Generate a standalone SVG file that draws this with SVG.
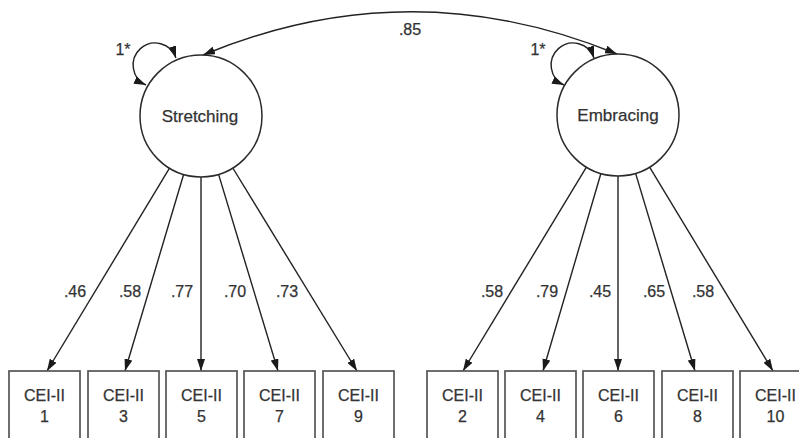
<svg xmlns="http://www.w3.org/2000/svg" width="799" height="438" viewBox="0 0 799 438">
<defs>
<marker id="ah" markerUnits="userSpaceOnUse" markerWidth="12" markerHeight="8" refX="12" refY="4" orient="auto-start-reverse"><path d="M0,0 L12,4 L0,8 z" fill="#1a1a1a"/></marker>
<style>
.lat{fill:#fff;stroke:#2a2a2a;stroke-width:1.5}
.obs{fill:#fff;stroke:#555;stroke-width:1.7}
.c{fill:none;stroke:#222;stroke-width:1.4;marker-end:url(#ah)}
.d{marker-start:url(#ah)}
text{font-family:"Liberation Sans",Arial,sans-serif;fill:#333;stroke:#333;stroke-width:0.25;text-anchor:middle}
.lt{font-size:17px}
.ot{font-size:16px}
.lb{font-size:16px}
</style>
</defs>
<rect width="799" height="438" fill="#fff"/>
<g id="connectors">
<path class="c d" d="M203,55 Q410,-31 617,54"/>
<path class="c d" d="M176,58 A22 22 0 1 0 146,85"/>
<path class="c d" d="M594,58 A22 22 0 1 0 564,85"/>
<path class="c" d="M169.5,168.2 L47,371"/>
<path class="c" d="M183.6,174.5 L125,371"/>
<path class="c" d="M201,177 L201,371"/>
<path class="c" d="M218.6,174.4 L278,371"/>
<path class="c" d="M232.8,168 L357,371"/>
<path class="c" d="M586.4,167.2 L463,371"/>
<path class="c" d="M600.9,173.5 L543,371"/>
<path class="c" d="M618,176 L618,371"/>
<path class="c" d="M635.6,173.4 L695,371"/>
<path class="c" d="M649.6,167.2 L773,371"/>
</g>
<g id="labels">
<text class="lb" x="410" y="35">.85</text>
<text class="lb" x="123" y="55">1*</text>
<text class="lb" x="538" y="55">1*</text>
<text class="lb" x="75" y="297">.46</text>
<text class="lb" x="130" y="297">.58</text>
<text class="lb" x="182" y="297">.77</text>
<text class="lb" x="235" y="297">.70</text>
<text class="lb" x="287" y="297">.73</text>
<text class="lb" x="492" y="297">.58</text>
<text class="lb" x="547" y="297">.79</text>
<text class="lb" x="600" y="297">.45</text>
<text class="lb" x="654" y="297">.65</text>
<text class="lb" x="703" y="297">.58</text>
</g>
<g id="stretching"><circle class="lat" cx="201" cy="116" r="61"/><text class="lt" x="200" y="122">Stretching</text></g>
<g id="embracing"><circle class="lat" cx="618" cy="115" r="61"/><text class="lt" x="618" y="121">Embracing</text></g>
<g id="cei1"><rect class="obs" x="9" y="371" width="71" height="80"/><text class="ot" x="44.5" y="401">CEI-II</text><text class="ot" x="44.5" y="422">1</text></g>
<g id="cei3"><rect class="obs" x="88" y="371" width="71" height="80"/><text class="ot" x="123.5" y="401">CEI-II</text><text class="ot" x="123.5" y="422">3</text></g>
<g id="cei5"><rect class="obs" x="166" y="371" width="71" height="80"/><text class="ot" x="201.5" y="401">CEI-II</text><text class="ot" x="201.5" y="422">5</text></g>
<g id="cei7"><rect class="obs" x="244" y="371" width="71" height="80"/><text class="ot" x="279.5" y="401">CEI-II</text><text class="ot" x="279.5" y="422">7</text></g>
<g id="cei9"><rect class="obs" x="323" y="371" width="71" height="80"/><text class="ot" x="358.5" y="401">CEI-II</text><text class="ot" x="358.5" y="422">9</text></g>
<g id="cei2"><rect class="obs" x="427" y="371" width="71" height="80"/><text class="ot" x="462.5" y="401">CEI-II</text><text class="ot" x="462.5" y="422">2</text></g>
<g id="cei4"><rect class="obs" x="505" y="371" width="71" height="80"/><text class="ot" x="540.5" y="401">CEI-II</text><text class="ot" x="540.5" y="422">4</text></g>
<g id="cei6"><rect class="obs" x="583" y="371" width="71" height="80"/><text class="ot" x="618.5" y="401">CEI-II</text><text class="ot" x="618.5" y="422">6</text></g>
<g id="cei8"><rect class="obs" x="662" y="371" width="71" height="80"/><text class="ot" x="697.5" y="401">CEI-II</text><text class="ot" x="697.5" y="422">8</text></g>
<g id="cei10"><rect class="obs" x="740" y="371" width="71" height="80"/><text class="ot" x="775.5" y="401">CEI-II</text><text class="ot" x="775.5" y="422">10</text></g>
</svg>
